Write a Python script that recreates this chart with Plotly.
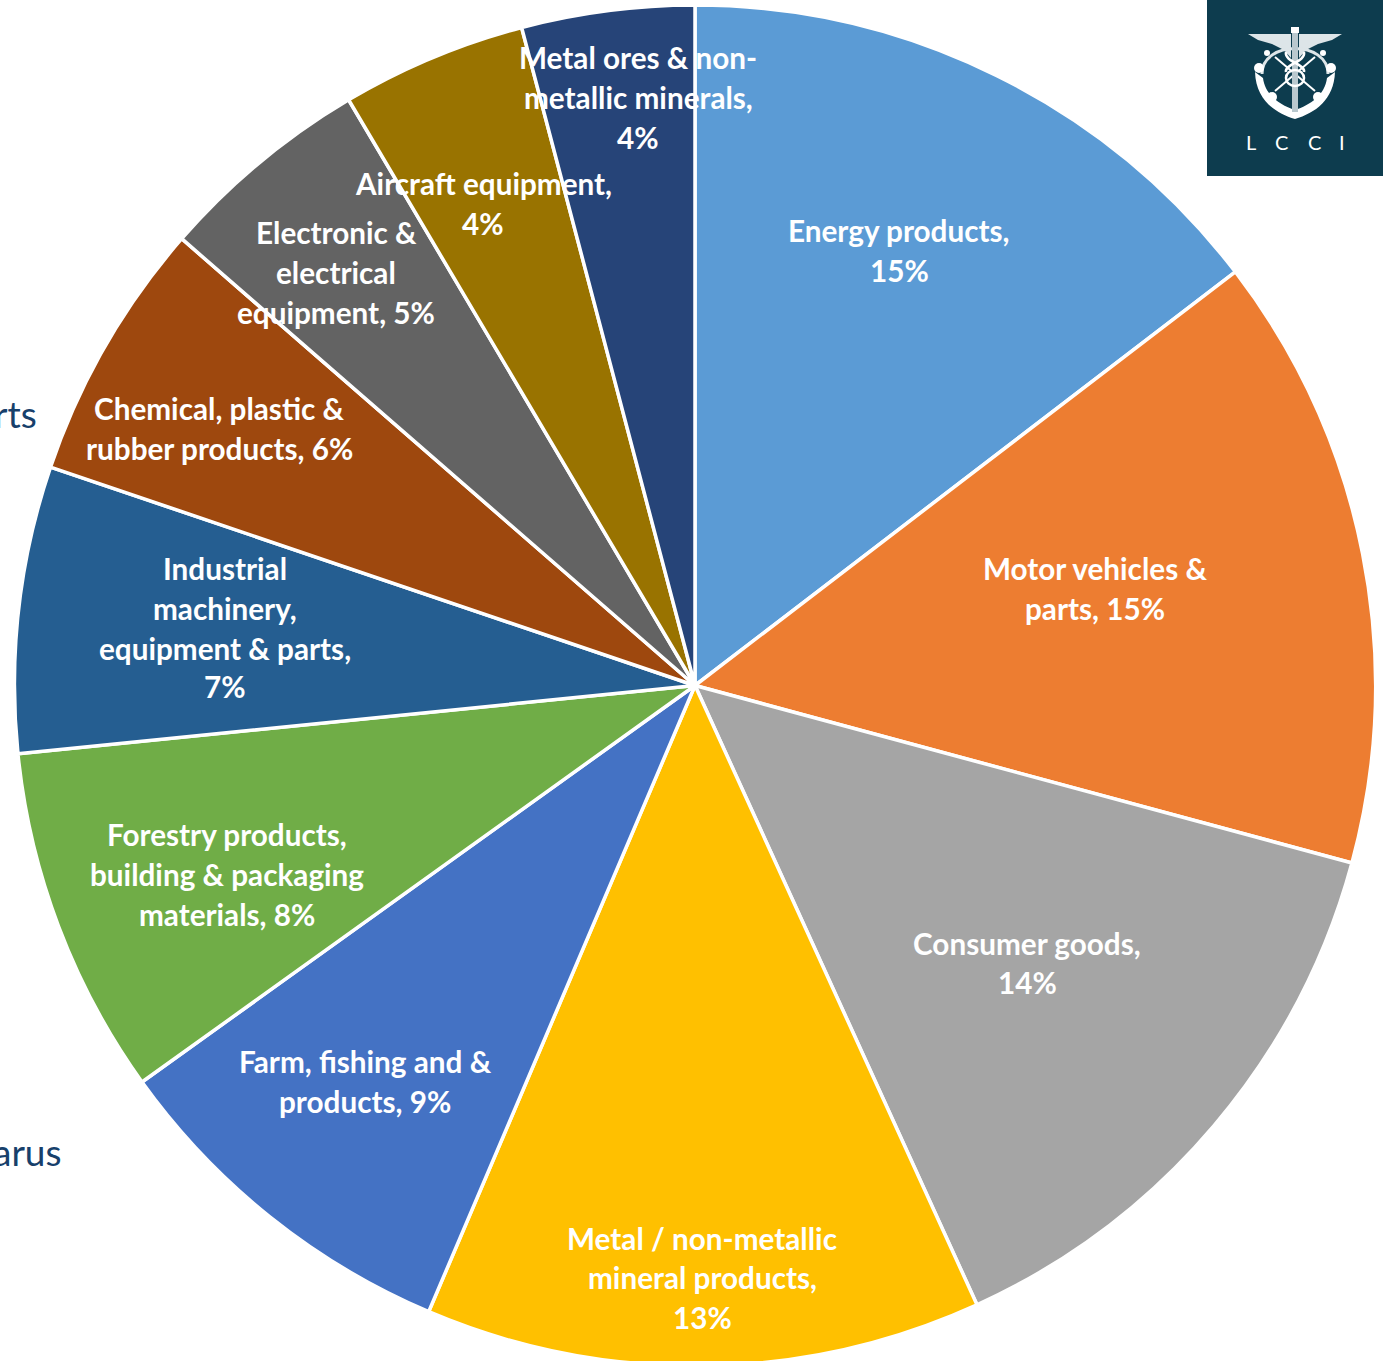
import plotly.graph_objects as go

W, H = 1383, 1361

categories = [
    "Energy products", "Motor vehicles & parts", "Consumer goods",
    "Metal / non-metallic mineral products", "Farm, fishing and & products",
    "Forestry products, building & packaging materials",
    "Industrial machinery, equipment & parts",
    "Chemical, plastic & rubber products",
    "Electronic & electrical equipment", "Aircraft equipment",
    "Metal ores & non-metallic minerals",
]
shares = [14.6, 14.6, 14.0, 13.2, 8.7, 8.3, 6.8, 6.2, 5.1, 4.4, 4.1]
colors = ["#5B9BD5", "#ED7D31", "#A5A5A5", "#FFC000", "#4472C4", "#70AD47",
          "#255E91", "#9E480E", "#636363", "#997300", "#264478"]

# Wrapped label text for each slice; {p} is filled from the slice's share.
label_lines = [
    ["Energy products,", "{p}%"],
    ["Motor vehicles &", "parts, {p}%"],
    ["Consumer goods,", "{p}%"],
    ["Metal / non-metallic", "mineral products,", "{p}%"],
    ["Farm, fishing and &", "products, {p}%"],
    ["Forestry products,", "building & packaging", "materials, {p}%"],
    ["Industrial", "machinery,", "equipment & parts,", "{p}%"],
    ["Chemical, plastic &", "rubber products, {p}%"],
    ["Electronic &", "electrical", "equipment, {p}%"],
    ["Aircraft equipment,", "{p}%"],
    ["Metal ores & non-", "metallic minerals,", "{p}%"],
]
label_x = [899, 1095, 1027, 702, 365, 227, 225, 219, 336, 483, 638]
label_y = [
    [230, 270], [568, 608], [943, 982], [1238, 1277, 1317], [1061, 1101],
    [834, 874, 914], [568, 608, 648, 686], [408, 448], [232, 272, 312],
    [183, 223], [57, 97, 137],
]

# The canvas runs a little below the window so the pie's lowest arc is cut by
# the page edge; the page itself is kept from scrolling.
CANVAS_H = 1375
CX, CY, R = 695, 685.5, 680.5
LOGO_BG = "#0D3C4E"
NAVY = "#17406B"

fig = go.Figure(go.Pie(
    labels=categories, values=shares, sort=False, direction="clockwise",
    rotation=0, textinfo="none", hoverinfo="label+percent",
    marker=dict(colors=colors, line=dict(color="white", width=3.5)),
    domain=dict(x=[(CX - R) / W, (CX + R) / W],
                y=[1 - (CY + R) / CANVAS_H, 1 - (CY - R) / CANVAS_H]),
    showlegend=False,
))

annotations = []
for lines, x, ys, share in zip(label_lines, label_x, label_y, shares):
    for line, y in zip(lines, ys):
        annotations.append(dict(
            x=x, y=y, xref="x", yref="y", showarrow=False,
            text=line.replace("{p}", str(round(share))),
            font=dict(family="Lato", size=29.7, color="white", weight=700),
        ))

# Side captions that run off the left edge of the page
for text, x, y in [("rts", 39, 413), ("arus", 64, 1151)]:
    annotations.append(dict(x=x, y=y, xref="x", yref="y", xanchor="right",
                            showarrow=False, text=text,
                            font=dict(family="Lato", size=37, color=NAVY)))

# Badge lettering
for letter, x in zip("LCCI", [1251, 1281, 1314, 1342]):
    annotations.append(dict(x=x, y=142, xref="x", yref="y", showarrow=False,
                            text=letter,
                            font=dict(family="Lato", size=20, color="white")))


def both_sides(points, axis=1295):
    """Return an SVG path for a polygon and for its mirror image about the staff."""
    def path(pts):
        return "M" + " L".join(f"{x},{y}" for x, y in pts) + " Z"
    return [path(points), path([(2 * axis - x, y) for x, y in points])]


shapes = [dict(type="rect", x0=1207, x1=1383, y0=0, y1=176,
               fillcolor=LOGO_BG, line_width=0)]
white = dict(fillcolor="white", line=dict(color="white", width=0))

# Wings
for p in both_sides([(1248, 34), (1291, 34), (1291, 58), (1284, 50), (1272, 44), (1258, 40)]):
    shapes.append(dict(type="path", path=p, fillcolor="#DDE5E8", line=dict(width=0)))

# Ring, anchor fluke and crossed bars
shapes.append(dict(type="path",
                   path="M1262,74 C1262,40 1328,40 1328,74",
                   line=dict(color="#DDE5E8", width=3)))
shapes.append(dict(type="path", path=(
    "M1255,72 C1256,100 1275,113 1295,119 C1315,113 1334,100 1335,72 "
    "L1327,78 C1325,95 1310,105 1295,110 C1280,105 1265,95 1263,78 Z"), **white))
shapes.append(dict(type="line", x0=1275, y0=91, x1=1315, y1=57,
                   line=dict(color="white", width=2)))
shapes.append(dict(type="line", x0=1315, y0=91, x1=1275, y1=57,
                   line=dict(color="white", width=2)))

# Staff and knob
shapes.append(dict(type="rect", x0=1292, x1=1298, y0=32, y1=112,
                   fillcolor="#B9C8CE", line=dict(width=0)))
shapes.append(dict(type="rect", x0=1291, x1=1299, y0=27, y1=33, **white))

# Entwined snakes
shapes.append(dict(type="circle", x0=1286, x1=1304, y0=70, y1=86,
                   line=dict(color="white", width=2.5)))
shapes.append(dict(type="path", path="M1286,52 C1284,62 1306,64 1304,72",
                   line=dict(color="white", width=2.5)))
shapes.append(dict(type="path", path="M1304,52 C1306,62 1284,64 1286,72",
                   line=dict(color="white", width=2.5)))

# Leaf clusters on the ring
for cx, cy, r in [(1259, 68, 5), (1331, 68, 5), (1272, 97, 5), (1318, 97, 5),
                  (1267, 53, 3), (1323, 53, 3)]:
    shapes.append(dict(type="circle", x0=cx - r, x1=cx + r, y0=cy - r, y1=cy + r, **white))

fig.update_layout(
    width=W, height=CANVAS_H, margin=dict(l=0, r=0, t=0, b=0),
    paper_bgcolor="white", plot_bgcolor="rgba(0,0,0,0)",
    xaxis=dict(range=[0, W], visible=False, fixedrange=True),
    yaxis=dict(range=[CANVAS_H, 0], visible=False, fixedrange=True),
    annotations=annotations, shapes=shapes,
)
fig.write_html(
    "out.html", config=dict(displayModeBar=False),
    post_script="document.documentElement.style.overflow='hidden';"
                "document.body.style.overflow='hidden';",
)
